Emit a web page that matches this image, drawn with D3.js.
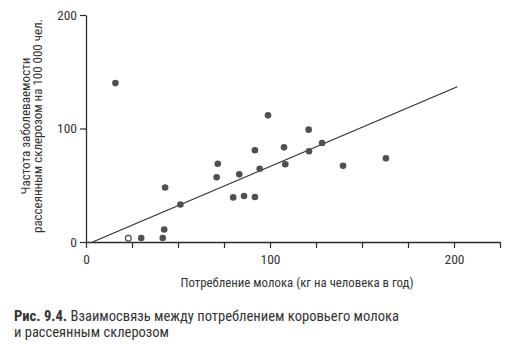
<!DOCTYPE html>
<html><head><meta charset="utf-8">
<script src="https://cdn.jsdelivr.net/npm/d3@7"></script>
<style>body{margin:0;background:#fff}svg{display:block}</style>
</head><body>
<svg id="c" width="506" height="346"></svg>
<script>
const milk = [16, 30, 41.7, 42.5, 43, 51.3, 71.6, 71, 83.3, 80, 85.9, 91.8, 91.8, 94.4, 98.9, 107.6, 108.3, 121, 121.2, 128.3, 139.7, 163];
const msRate = [140, 3.5, 3.5, 11, 48, 33, 69, 57, 59.6, 39.3, 40.5, 39.6, 80.8, 64.6, 111.6, 83.4, 68.5, 99, 79.9, 87.2, 67.2, 73.7];
const openMilk = [23];
const openRate = [3.3];
const fitX = [3.6, 201.8];
const fitY = [0, 136.8];
const xTicks = [0, 25, 50, 75, 100, 125, 150, 175, 200, 225];
const xLabels = [0, 100, 200];
const yTicks = [0, 100, 200];
const yTitle = ["Частота заболеваемости", "рассеянным склерозом на 100 000 чел."];
const xTitle = "Потребление молока (кг на человека в год)";
const captionBold = "Рис. 9.4.";
const captionRest = " Взаимосвязь между потреблением коровьего молока";
const captionLine2 = "и рассеянным склерозом";

const svg = d3.select("#c");
const font = "'Liberation Sans Narrow','Roboto Condensed','Liberation Sans',Arial,sans-serif";
const x = d3.scaleLinear().domain([0, 225]).range([86, 500]);
const y = d3.scaleLinear().domain([0, 200]).range([242, 15]);
const ink = "#2b2b2b";

// x axis
const xa = svg.append("g").attr("transform", `translate(0,${y(0)})`)
  .call(d3.axisBottom(x).tickValues(xTicks).tickSize(6).tickSizeOuter(0)
    .tickFormat(d => xLabels.includes(d) ? d : ""));
xa.select(".domain").attr("stroke", ink).attr("stroke-width", 1.3);
xa.selectAll(".tick line").attr("stroke", ink).attr("stroke-width", 1.2);
xa.selectAll(".tick text").attr("font-family", font).attr("font-size", 13.5).attr("fill", "#333").attr("dy", "0.95em");

// y axis
const ya = svg.append("g").attr("transform", `translate(${x(0)},0)`)
  .call(d3.axisLeft(y).tickValues(yTicks).tickSize(6).tickSizeOuter(0));
ya.select(".domain").attr("stroke", ink).attr("stroke-width", 1.3);
ya.selectAll(".tick line").attr("stroke", ink).attr("stroke-width", 1.2);
ya.selectAll(".tick text").attr("font-family", font).attr("font-size", 13.5).attr("fill", "#333").attr("x", -9);

// y title
const yt = svg.append("text").attr("transform", `translate(0,126) rotate(-90)`)
  .attr("font-family", font).attr("font-size", 12).attr("fill", "#333").attr("text-anchor", "middle");
yt.append("tspan").attr("x", 0).attr("y", 29.5).attr("textLength", 137).attr("lengthAdjust", "spacingAndGlyphs").text(yTitle[0]);
yt.append("tspan").attr("x", 0).attr("y", 42).attr("textLength", 214).attr("lengthAdjust", "spacingAndGlyphs").text(yTitle[1]);

// x title
svg.append("text").attr("x", 297).attr("y", 287).attr("text-anchor", "middle")
  .attr("font-family", font).attr("font-size", 12).attr("fill", "#333")
  .attr("textLength", 233).attr("lengthAdjust", "spacingAndGlyphs").text(xTitle);

// regression line
const fit = fitX.map((v, i) => [v, fitY[i]]);
svg.append("path").datum(fit)
  .attr("d", d3.line().x(d => x(d[0])).y(d => y(d[1])))
  .attr("stroke", "#333").attr("stroke-width", 1.3).attr("fill", "none");

// points
const pts = milk.map((v, i) => ({m: v, r: msRate[i]}));
svg.append("g").selectAll("circle").data(pts).join("circle")
  .attr("cx", d => x(d.m)).attr("cy", d => y(d.r)).attr("r", 3.3).attr("fill", "#505050");
const opts = openMilk.map((v, i) => ({m: v, r: openRate[i]}));
svg.append("g").selectAll("circle").data(opts).join("circle")
  .attr("cx", d => x(d.m)).attr("cy", d => y(d.r)).attr("r", 2.9)
  .attr("fill", "#fff").attr("stroke", "#444").attr("stroke-width", 1.1);

// caption
const cap = svg.append("text").attr("x", 14).attr("y", 321)
  .attr("font-family", font).attr("font-size", 14).attr("fill", "#333")
  .attr("textLength", 385).attr("lengthAdjust", "spacingAndGlyphs");
cap.append("tspan").attr("font-weight", "bold").text(captionBold);
cap.append("tspan").text(captionRest);
svg.append("text").attr("x", 14).attr("y", 337)
  .attr("font-family", font).attr("font-size", 14).attr("fill", "#333")
  .attr("textLength", 155).attr("lengthAdjust", "spacingAndGlyphs").text(captionLine2);
</script>
</body></html>
